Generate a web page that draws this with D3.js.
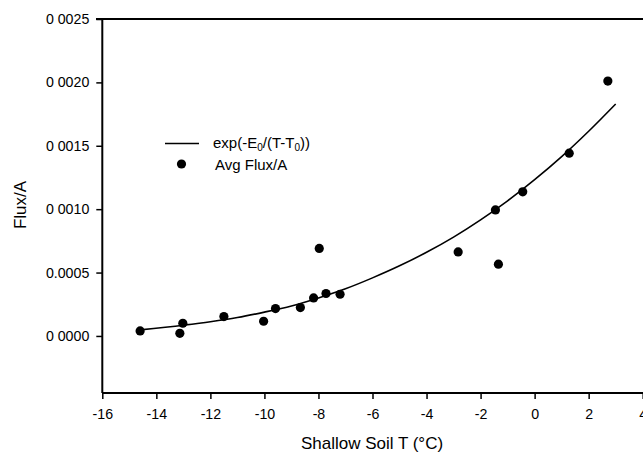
<!DOCTYPE html>
<html>
<head>
<meta charset="utf-8">
<script src="https://cdn.jsdelivr.net/npm/d3@7"></script>
<style>
  body { margin: 0; background: #fff; }
  svg { display: block; font-family: "Liberation Sans", Arial, Helvetica, sans-serif; }
</style>
</head>
<body>
<svg id="chart" width="643" height="454"></svg>
<script>
// measured points (Avg Flux/A)
const soilT = [-14.6, -13.13, -13.02, -11.5, -10.03, -9.59, -8.67, -8.18, -7.97, -7.72, -7.2, -2.83, -1.45, -1.34, -0.44, 1.28, 2.71]
const avgFlux = [0.00004, 0.000021, 0.0001, 0.000153, 0.000116, 0.000216, 0.000224, 0.0003, 0.00069, 0.000335, 0.000329, 0.000663, 0.000994, 0.000566, 0.001137, 0.001442, 0.00201]

// fitted curve
const fitT = [-14.6, -13, -12, -11, -10, -9, -8, -7, -6, -5, -4, -3, -2, -1, 0, 1, 2, 3]
const fitFlux = [0.000048, 0.000085, 0.000112, 0.000145, 0.000188, 0.000237, 0.0003, 0.000372, 0.000458, 0.000553, 0.00066, 0.00078, 0.000916, 0.001066, 0.001233, 0.001415, 0.001615, 0.00183]

const xTicks = [-16, -14, -12, -10, -8, -6, -4, -2, 0, 2, 4]
const yTicks = [0, 0.0005, 0.001, 0.0015, 0.002, 0.0025]
const yTickLabels = ["0 0000", "0.0005", "0 0010", "0 0015", "0 0020", "0 0025"]

const svg = d3.select("#chart")

const x = d3.scaleLinear().domain([-16, 4]).range([102.3, 642.7])
const y = d3.scaleLinear().domain([-0.00045, 0.0025]).range([393, 19])

// frame line on top
svg.append("line")
    .attr("x1", 96).attr("x2", 643)
    .attr("y1", y(0.0025)).attr("y2", y(0.0025))
    .attr("stroke", "#000").attr("stroke-width", 2)

const xAxis = svg.append("g")
    .attr("transform", `translate(0,${y(-0.00045)})`)
    .call(d3.axisBottom(x).tickValues(xTicks).tickSize(6).tickPadding(10).tickFormat(d => d))
xAxis.select(".domain").attr("d", `M${x(-16)},0H643`).attr("stroke-width", 2)

const yAxis = svg.append("g")
    .attr("transform", `translate(${x(-16)},0)`)
    .call(d3.axisLeft(y).tickValues(yTicks).tickSize(6).tickPadding(7)
        .tickFormat((d, i) => yTickLabels[i]))
yAxis.select(".domain").attr("d", `M0,${y(0.0025)}V${y(-0.00045)}`).attr("stroke-width", 2)

svg.selectAll(".tick line").attr("stroke-width", 1.5)
svg.selectAll(".tick text")
    .attr("font-size", 14.2)
    .attr("font-family", "Liberation Sans, Arial, sans-serif")
    .attr("fill", "#000")

// fitted curve
const line = d3.line()
    .x((d, i) => x(fitT[i]))
    .y(d => y(d))
    .curve(d3.curveMonotoneX)

svg.append("path")
    .datum(fitFlux)
    .attr("d", line)
    .attr("fill", "none")
    .attr("stroke", "#000")
    .attr("stroke-width", 1.6)

// points
svg.selectAll("circle.pt")
    .data(avgFlux)
    .join("circle")
    .attr("class", "pt")
    .attr("cx", (d, i) => x(soilT[i]))
    .attr("cy", d => y(d))
    .attr("r", 4.6)
    .attr("fill", "#000")

// legend
const lg = svg.append("g").attr("font-size", 15)
lg.append("line").attr("x1", 165).attr("x2", 199).attr("y1", 143.5).attr("y2", 143.5)
    .attr("stroke", "#000").attr("stroke-width", 1.3)
const t1 = lg.append("text").attr("x", 213).attr("y", 148)
t1.append("tspan").text("exp(-E")
t1.append("tspan").attr("font-size", 10).attr("dy", 3).text("0")
t1.append("tspan").attr("dy", -3).text("/(T-T")
t1.append("tspan").attr("font-size", 10).attr("dy", 3).text("0")
t1.append("tspan").attr("dy", -3).text("))")
lg.append("circle").attr("cx", 181.5).attr("cy", 164).attr("r", 4.6).attr("fill", "#000")
lg.append("text").attr("x", 215).attr("y", 169.5).text("Avg Flux/A")

// axis titles
svg.append("text")
    .attr("x", 372).attr("y", 449)
    .attr("text-anchor", "middle")
    .attr("font-size", 17)
    .text("Shallow Soil T (°C)")

svg.append("text")
    .attr("transform", "translate(26,205) rotate(-90)")
    .attr("text-anchor", "middle")
    .attr("font-size", 17)
    .text("Flux/A")
</script>
</body>
</html>
